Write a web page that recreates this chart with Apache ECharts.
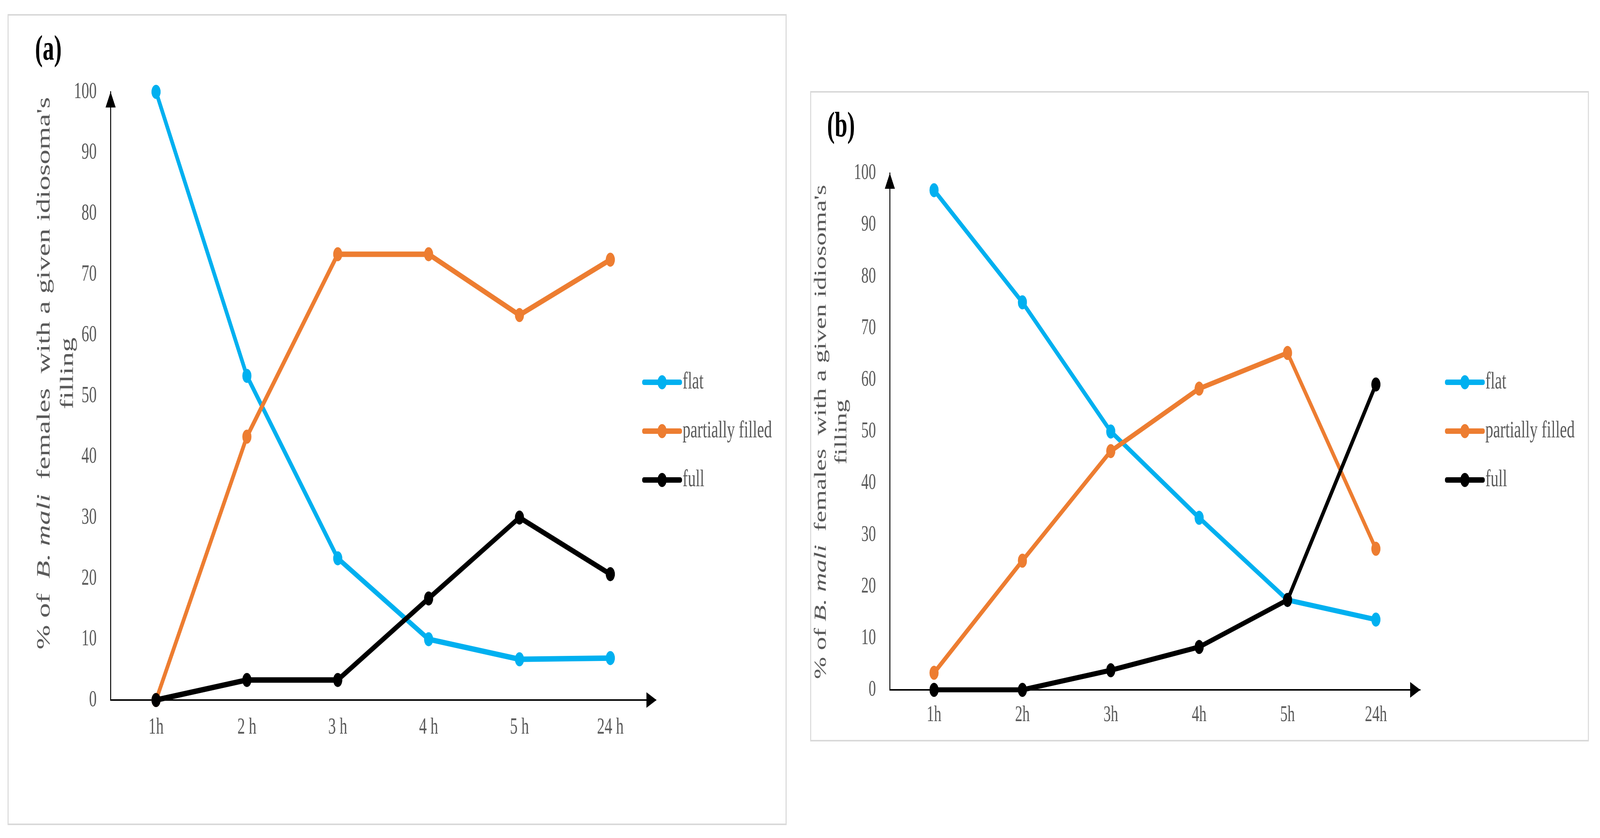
<!DOCTYPE html>
<html>
<head>
<meta charset="utf-8">
<script src="https://cdn.jsdelivr.net/npm/echarts@6/dist/echarts.min.js"></script>
<style>
html,body{margin:0;padding:0;background:#fff;overflow:hidden;}
#chart{position:absolute;left:0;top:0;width:6322px;height:2144px;transform-origin:0 0;}
</style>
</head>
<body>
<div id="chart"></div>
<script>
// ---- data ----
const categoriesA = ['1h', '2 h', '3 h', '4 h', '5 h', '24 h'];
const categoriesB = ['1h', '2h', '3h', '4h', '5h', '24h'];
const seriesNames = ['flat', 'partially filled', 'full'];
const flatA = [100, 53.3, 23.3, 10, 6.7, 6.9];
const partialA = [0, 43.3, 73.3, 73.3, 63.3, 72.4];
const fullA = [0, 3.3, 3.3, 16.7, 30, 20.7];
const flatB = [96.7, 75, 50, 33.3, 17.4, 13.6];
const partialB = [3.3, 25, 46.2, 58.3, 65.2, 27.3];
const fullB = [0, 0, 3.8, 8.3, 17.4, 59.1];
const yTicks = { min: 0, max: 100, interval: 10 };

const FONT = "'Liberation Serif', 'Times New Roman', serif";
const COLORS = ['#00B0F0', '#ED7D31', '#000000'];
const LABEL_COLOR = '#595959';

// The page is designed at 6322x2144; fit it to the actual viewport.
const el = document.getElementById('chart');
const W = window.innerWidth || 6322, H = window.innerHeight || 2144;
el.style.transform = 'scale(' + (W / 6322) + ',' + (H / 2144) + ')';
const chart = echarts.init(el, null, { renderer: 'canvas', width: 6322, height: 2144, devicePixelRatio: 1 });

function xAxisCfg(gridIndex, cats, offset, margin, fs) {
  return {
    type: 'category', gridIndex: gridIndex, data: cats, boundaryGap: true,
    axisTick: { show: false },
    axisLine: { show: true, onZero: true, lineStyle: { color: '#000', width: 4 },
      symbol: ['none', 'triangle'], symbolSize: [40, 40], symbolOffset: [0, offset] },
    axisLabel: { color: LABEL_COLOR, fontFamily: FONT, fontSize: fs, margin: margin },
    splitLine: { show: false }
  };
}
function yAxisCfg(gridIndex, offset, fs) {
  return {
    type: 'value', gridIndex: gridIndex, min: yTicks.min, max: yTicks.max, interval: yTicks.interval,
    axisTick: { show: false },
    axisLine: { show: true, lineStyle: { color: '#000', width: 4 },
      symbol: ['none', 'triangle'], symbolSize: [40, 40], symbolOffset: [0, offset] },
    axisLabel: { color: LABEL_COLOR, fontFamily: FONT, fontSize: fs, margin: 55 },
    splitLine: { show: false }
  };
}
function lineSeries(name, data, idx, gi, lw) {
  return {
    name: name, type: 'line', xAxisIndex: gi, yAxisIndex: gi, data: data,
    symbol: 'circle', symbolSize: 36, showSymbol: true,
    lineStyle: { color: COLORS[idx], width: lw },
    itemStyle: { color: COLORS[idx] },
    z: 2 + idx
  };
}
function legendCfg(left) {
  return {
    orient: 'vertical', left: left, top: 942,
    itemWidth: 144, itemHeight: 45, itemGap: 63,
    data: seriesNames,
    textStyle: { color: LABEL_COLOR, fontFamily: FONT, fontSize: 62, padding: [0, 0, 0, 4] },
    lineStyle: { cap: 'round', width: 14 }
  };
}

const titleRich = (fs, lh) => ({
  n: { fontFamily: FONT, fontSize: fs, lineHeight: lh, fill: LABEL_COLOR, color: LABEL_COLOR },
  i: { fontFamily: FONT, fontSize: fs, lineHeight: lh, fontStyle: 'italic', fill: LABEL_COLOR, color: LABEL_COLOR }
});

const option = {
  animation: false,
  backgroundColor: '#ffffff',
  grid: [
    { left: 437, top: 235, width: 2154, height: 1556, containLabel: false },
    { left: 3516, top: 443, width: 2095, height: 1322, containLabel: false }
  ],
  xAxis: [xAxisCfg(0, categoriesA, -17, 40, 60), xAxisCfg(1, categoriesB, -19, 36, 58)],
  yAxis: [yAxisCfg(0, -20, 60), yAxisCfg(1, -20, 58)],
  legend: [legendCfg(2532), legendCfg(5704)],
  series: [
    lineSeries(seriesNames[0], flatA, 0, 0, 14),
    lineSeries(seriesNames[1], partialA, 1, 0, 14),
    lineSeries(seriesNames[2], fullA, 2, 0, 14),
    lineSeries(seriesNames[0], flatB, 0, 1, 13),
    lineSeries(seriesNames[1], partialB, 1, 1, 13),
    lineSeries(seriesNames[2], fullB, 2, 1, 13)
  ],
  graphic: [
    { type: 'rect', shape: { x: 32, y: 38, width: 3074, height: 2071 },
      style: { fill: 'none', stroke: '#D9D9D9', lineWidth: 4 }, z: -1 },
    { type: 'rect', shape: { x: 3203, y: 235, width: 3073, height: 1660 },
      style: { fill: 'none', stroke: '#D9D9D9', lineWidth: 4 }, z: -1 },
    { type: 'text', x: 191, y: 130,
      style: { text: '(a)', font: 'bold 90px ' + FONT, fill: '#000', align: 'center', verticalAlign: 'middle' } },
    { type: 'text', x: 3323, y: 326,
      style: { text: '(b)', font: 'bold 90px ' + FONT, fill: '#000', align: 'center', verticalAlign: 'middle' } },
    { type: 'text', x: 222, y: 955, rotation: Math.PI / 2,
      style: { text: "{n|% of  }{i|B. mali}{n|  females  with a given idiosoma's}\n{n|filling}",
        rich: titleRich(75, 92), align: 'center', verticalAlign: 'middle', fill: LABEL_COLOR } },
    { type: 'text', x: 3286, y: 1105, rotation: Math.PI / 2,
      style: { text: "{n|% of }{i|B. mali}{n|  females  with a given idiosoma's}\n{n|filling}",
        rich: titleRich(68, 81), align: 'center', verticalAlign: 'middle', fill: LABEL_COLOR } }
  ]
};
chart.setOption(option);
</script>
</body>
</html>
